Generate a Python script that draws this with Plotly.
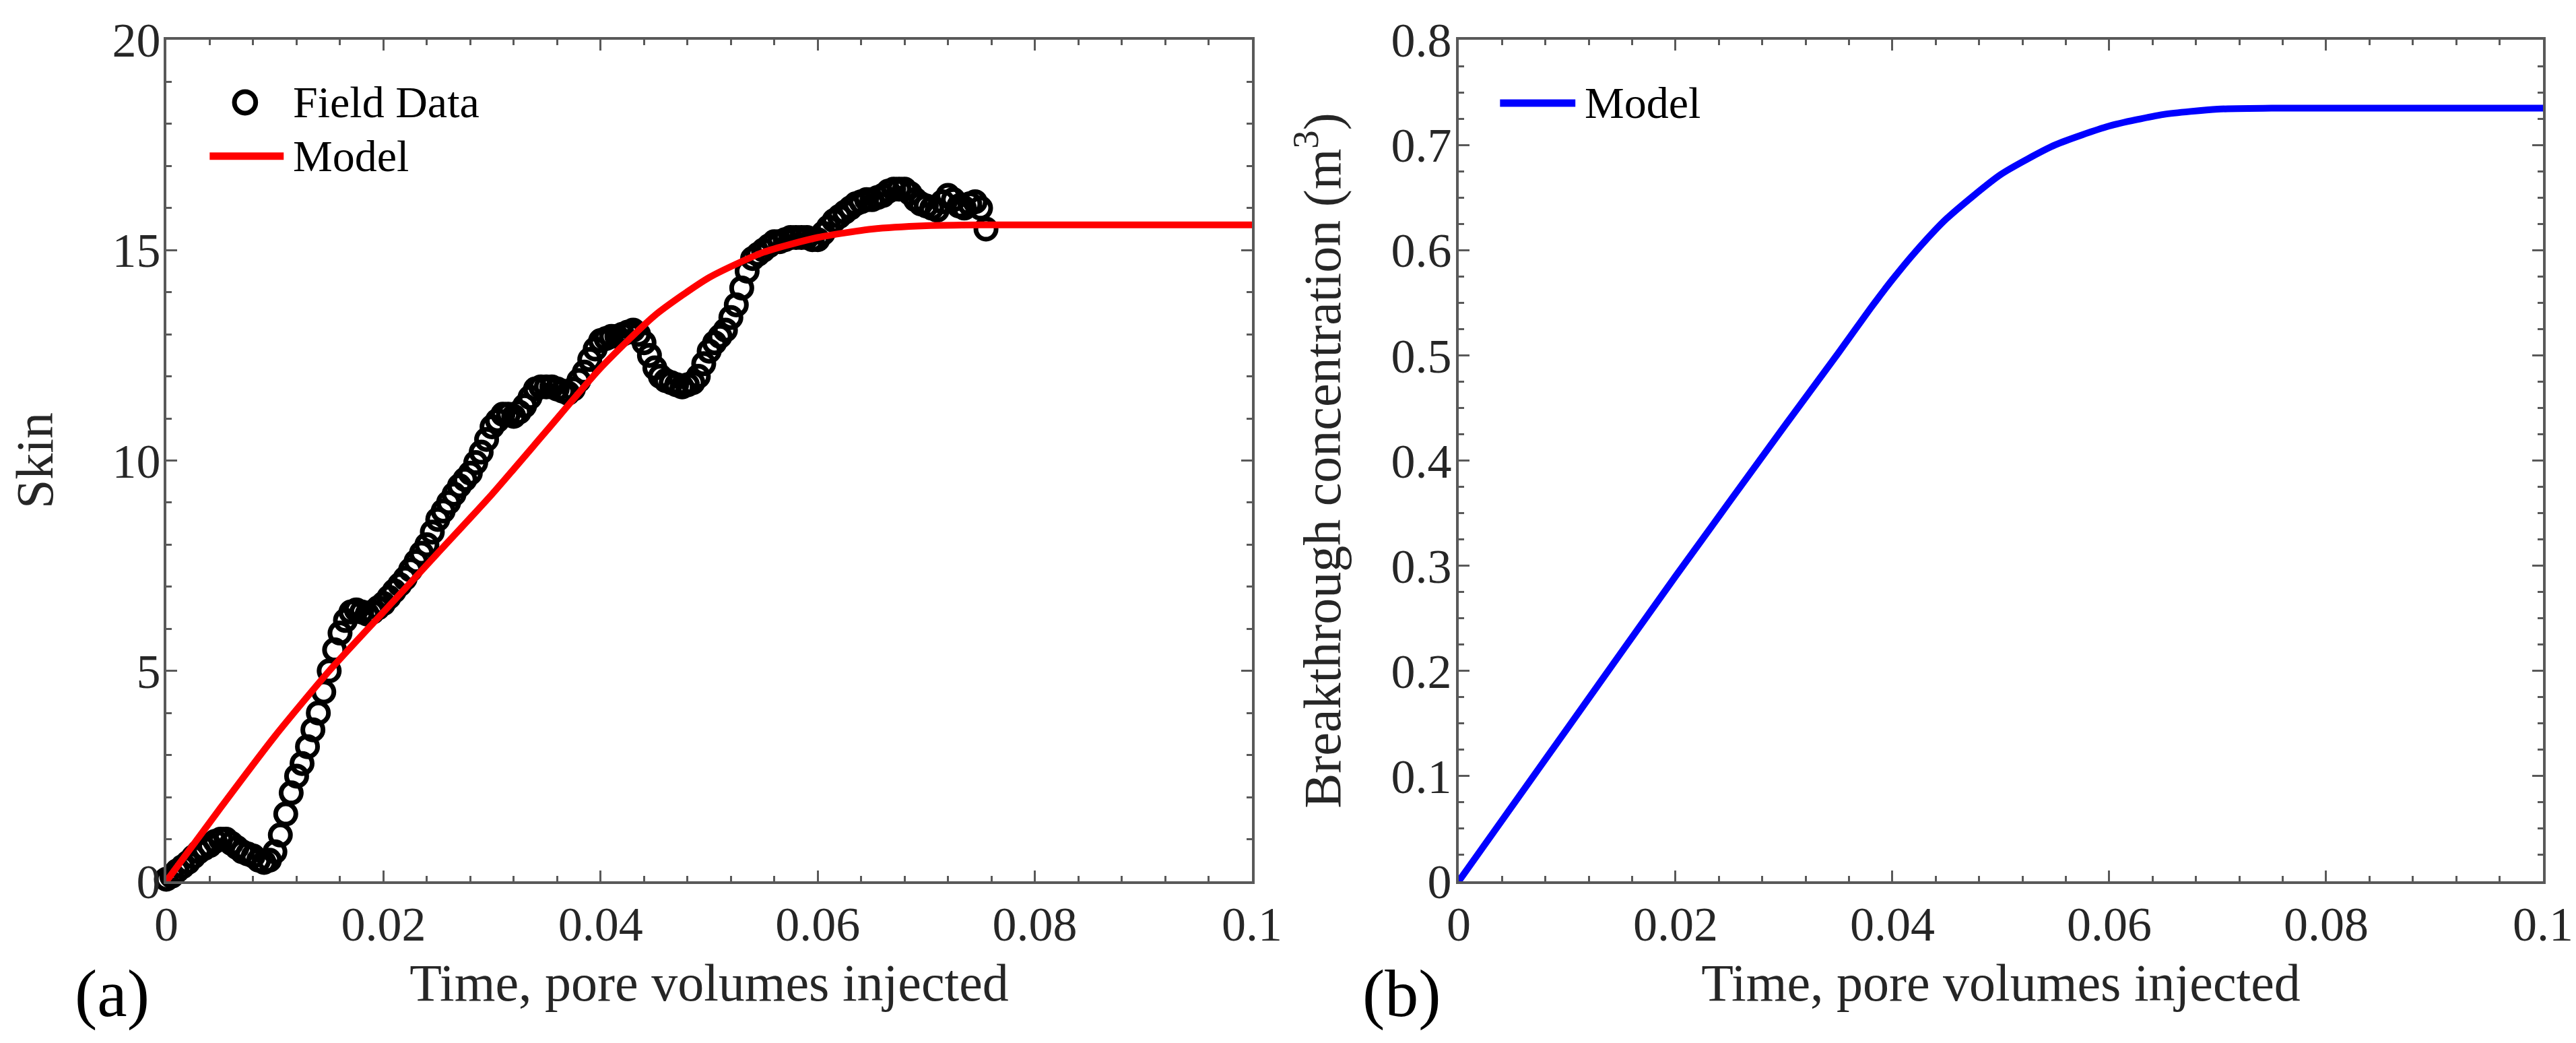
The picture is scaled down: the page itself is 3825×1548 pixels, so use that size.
import plotly.graph_objects as go

# panel (a): field data (skin vs pore volumes injected)
field_x = [
    0.0000, 0.0005, 0.0010, 0.0015, 0.0020, 0.0025, 0.0030, 0.0035, 0.0040, 0.0045,
    0.0050, 0.0055, 0.0060, 0.0065, 0.0070, 0.0075, 0.0080, 0.0085, 0.0090, 0.0095,
    0.0100, 0.0105, 0.0110, 0.0115, 0.0120, 0.0125, 0.0130, 0.0135, 0.0140, 0.0145,
    0.0150, 0.0155, 0.0160, 0.0165, 0.0170, 0.0175, 0.0180, 0.0185, 0.0190, 0.0195,
    0.0200, 0.0205, 0.0210, 0.0215, 0.0220, 0.0225, 0.0230, 0.0235, 0.0240, 0.0245,
    0.0250, 0.0255, 0.0260, 0.0265, 0.0270, 0.0275, 0.0280, 0.0285, 0.0290, 0.0295,
    0.0300, 0.0305, 0.0310, 0.0315, 0.0320, 0.0325, 0.0330, 0.0335, 0.0340, 0.0345,
    0.0350, 0.0355, 0.0360, 0.0365, 0.0370, 0.0375, 0.0380, 0.0385, 0.0390, 0.0395,
    0.0400, 0.0405, 0.0410, 0.0415, 0.0420, 0.0425, 0.0430, 0.0435, 0.0440, 0.0445,
    0.0450, 0.0455, 0.0460, 0.0465, 0.0470, 0.0475, 0.0480, 0.0485, 0.0490, 0.0495,
    0.0500, 0.0505, 0.0510, 0.0515, 0.0520, 0.0525, 0.0530, 0.0535, 0.0540, 0.0545,
    0.0550, 0.0555, 0.0560, 0.0565, 0.0570, 0.0575, 0.0580, 0.0585, 0.0590, 0.0595,
    0.0600, 0.0605, 0.0610, 0.0615, 0.0620, 0.0625, 0.0630, 0.0635, 0.0640, 0.0645,
    0.0650, 0.0655, 0.0660, 0.0665, 0.0670, 0.0675, 0.0680, 0.0685, 0.0690, 0.0695,
    0.0700, 0.0705, 0.0710, 0.0715, 0.0720, 0.0725, 0.0730, 0.0735, 0.0740, 0.0745,
    0.0750, 0.0755,
]
field_skin = [
    0.05, 0.12, 0.25, 0.35, 0.45, 0.58, 0.70, 0.78, 0.85, 0.95,
    1.00, 1.00, 0.90, 0.80, 0.70, 0.65, 0.60, 0.50, 0.45, 0.50,
    0.70, 1.10, 1.60, 2.10, 2.50, 2.80, 3.20, 3.60, 4.00, 4.50,
    5.00, 5.50, 5.90, 6.20, 6.40, 6.45, 6.40, 6.35, 6.40, 6.50,
    6.60, 6.75, 6.90, 7.05, 7.20, 7.40, 7.60, 7.80, 8.00, 8.30,
    8.60, 8.80, 9.00, 9.20, 9.40, 9.55, 9.70, 9.95, 10.20, 10.50,
    10.80, 10.95, 11.10, 11.10, 11.05, 11.15, 11.30, 11.50, 11.70, 11.75,
    11.75, 11.75, 11.70, 11.65, 11.60, 11.70, 11.90, 12.10, 12.40, 12.65,
    12.85, 12.90, 12.95, 12.95, 13.00, 13.05, 13.10, 13.00, 12.80, 12.50,
    12.20, 12.00, 11.90, 11.85, 11.80, 11.75, 11.80, 11.85, 12.00, 12.30,
    12.60, 12.80, 12.95, 13.10, 13.40, 13.70, 14.10, 14.50, 14.80, 14.90,
    15.00, 15.10, 15.20, 15.20, 15.25, 15.30, 15.30, 15.30, 15.30, 15.25,
    15.25, 15.40, 15.55, 15.70, 15.80, 15.90, 16.00, 16.10, 16.15, 16.20,
    16.20, 16.25, 16.30, 16.40, 16.45, 16.45, 16.45, 16.35, 16.20, 16.10,
    16.05, 16.00, 15.95, 16.15, 16.30, 16.20, 16.05, 16.00, 16.10, 16.15,
    16.00, 15.50,
]

# panel (a): model skin
model_a_x = [0, 0.005, 0.01, 0.015, 0.02, 0.025, 0.03, 0.035, 0.04, 0.045,
             0.05, 0.055, 0.06, 0.065, 0.07, 0.075, 0.08, 0.09, 0.1]
model_a_skin = [0, 1.75, 3.45, 5.0, 6.4, 7.8, 9.2, 10.7, 12.2, 13.45,
                14.35, 14.95, 15.3, 15.5, 15.58, 15.6, 15.6, 15.6, 15.6]

# panel (b): model breakthrough concentration
model_b_x = [0, 0.01, 0.02, 0.03, 0.035, 0.038, 0.04, 0.042, 0.045, 0.05,
             0.055, 0.06, 0.065, 0.07, 0.075, 0.08, 0.09, 0.1]
model_b_conc = [0, 0.145, 0.29, 0.432, 0.502, 0.545, 0.572, 0.597, 0.63, 0.672,
                0.70, 0.718, 0.729, 0.734, 0.735, 0.735, 0.735, 0.735]

FONT = "Liberation Serif"
TEXT = "#262626"
AXC = "#595959"


def axis_style(**kw):
    d = dict(
        showline=True, linewidth=4, linecolor=AXC, mirror="ticks",
        ticks="inside", ticklen=16, tickwidth=3, tickcolor=AXC,
        showgrid=False, zeroline=False,
        tickfont=dict(family=FONT, size=72, color=TEXT),
        title_font=dict(family=FONT, size=78, color=TEXT),
    )
    d.update(kw)
    return d


fig = go.Figure()

fig.add_trace(go.Scatter(
    x=field_x, y=field_skin, mode="markers", name="Field Data",
    marker=dict(symbol="circle-open", size=30, color="black", line=dict(width=7, color="black")),
    cliponaxis=False, xaxis="x", yaxis="y", showlegend=False,
))
fig.add_trace(go.Scatter(
    x=model_a_x, y=model_a_skin, mode="lines", name="Model",
    line=dict(color="#FF0000", width=10, shape="spline", smoothing=0.6),
    xaxis="x", yaxis="y", showlegend=False,
))
fig.add_trace(go.Scatter(
    x=model_b_x, y=model_b_conc, mode="lines", name="Model",
    line=dict(color="#0000FF", width=10, shape="spline", smoothing=0.6),
    xaxis="x2", yaxis="y2", showlegend=False,
))

xminor = dict(ticks="inside", ticklen=8, tickwidth=3, tickcolor=AXC, dtick=0.004, tick0=0, showgrid=False)

fig.update_layout(
    width=3825, height=1548,
    margin=dict(l=207, r=54, t=50, b=248),
    paper_bgcolor="white", plot_bgcolor="white",
    font=dict(family=FONT, color=TEXT),
    xaxis=axis_style(domain=[0, 0.45679], range=[0, 0.1], dtick=0.02, tick0=0,
                     minor=xminor, ticklabelstandoff=-2,
                     title=dict(text="Time, pore volumes injected", standoff=20), anchor="y"),
    yaxis=axis_style(domain=[0, 1], range=[0, 20], dtick=5, tick0=0,
                     minor=dict(ticks="inside", ticklen=8, tickwidth=3, tickcolor=AXC, dtick=1, showgrid=False),
                     ticklabelstandoff=-10,
                     title=dict(text="Skin", standoff=92), anchor="x"),
    xaxis2=axis_style(domain=[0.54377, 1], range=[0, 0.1], dtick=0.02, tick0=0,
                      minor=xminor, ticklabelstandoff=-2,
                      title=dict(text="Time, pore volumes injected", standoff=20), anchor="y2"),
    yaxis2=axis_style(domain=[0, 1], range=[0, 0.8], dtick=0.1, tick0=0,
                      minor=dict(ticks="inside", ticklen=8, tickwidth=3, tickcolor=AXC, dtick=0.025, showgrid=False),
                      ticklabelstandoff=-8,
                      title=dict(text="Breakthrough concentration (m<sup>3</sup>)", standoff=50), anchor="x2"),
    showlegend=False,
)

# legend of panel (a), drawn by hand so the line sample has the original length
fig.add_shape(type="circle", xref="x domain", yref="y domain",
              x0=0.0627, x1=0.0823, y0=0.9128, y1=0.9384,
              line=dict(color="black", width=7))
fig.add_shape(type="line", xref="x domain", yref="y domain",
              x0=0.0399, x1=0.1081, y0=0.8616, y1=0.8616,
              line=dict(color="#FF0000", width=11))
fig.add_annotation(text="Field Data", xref="x domain", yref="y domain", x=0.1155, y=0.9256,
                   xanchor="left", yanchor="middle", showarrow=False,
                   font=dict(family=FONT, size=66, color="black"))
fig.add_annotation(text="Model", xref="x domain", yref="y domain", x=0.1155, y=0.8616,
                   xanchor="left", yanchor="middle", showarrow=False,
                   font=dict(family=FONT, size=66, color="black"))

# legend of panel (b)
fig.add_shape(type="line", xref="x2 domain", yref="y2 domain",
              x0=0.0381, x1=0.1076, y0=0.9248, y1=0.9248,
              line=dict(color="#0000FF", width=11))
fig.add_annotation(text="Model", xref="x2 domain", yref="y2 domain", x=0.115, y=0.9248,
                   xanchor="left", yanchor="middle", showarrow=False,
                   font=dict(family=FONT, size=66, color="black"))

# panel letters
fig.add_annotation(text="(a)", xref="paper", yref="paper", x=-0.0227, y=-0.133,
                   xanchor="center", yanchor="middle", showarrow=False,
                   font=dict(family=FONT, size=100, color="black"))
fig.add_annotation(text="(b)", xref="paper", yref="paper", x=0.5199, y=-0.133,
                   xanchor="center", yanchor="middle", showarrow=False,
                   font=dict(family=FONT, size=100, color="black"))

fig.write_html("out.html")
